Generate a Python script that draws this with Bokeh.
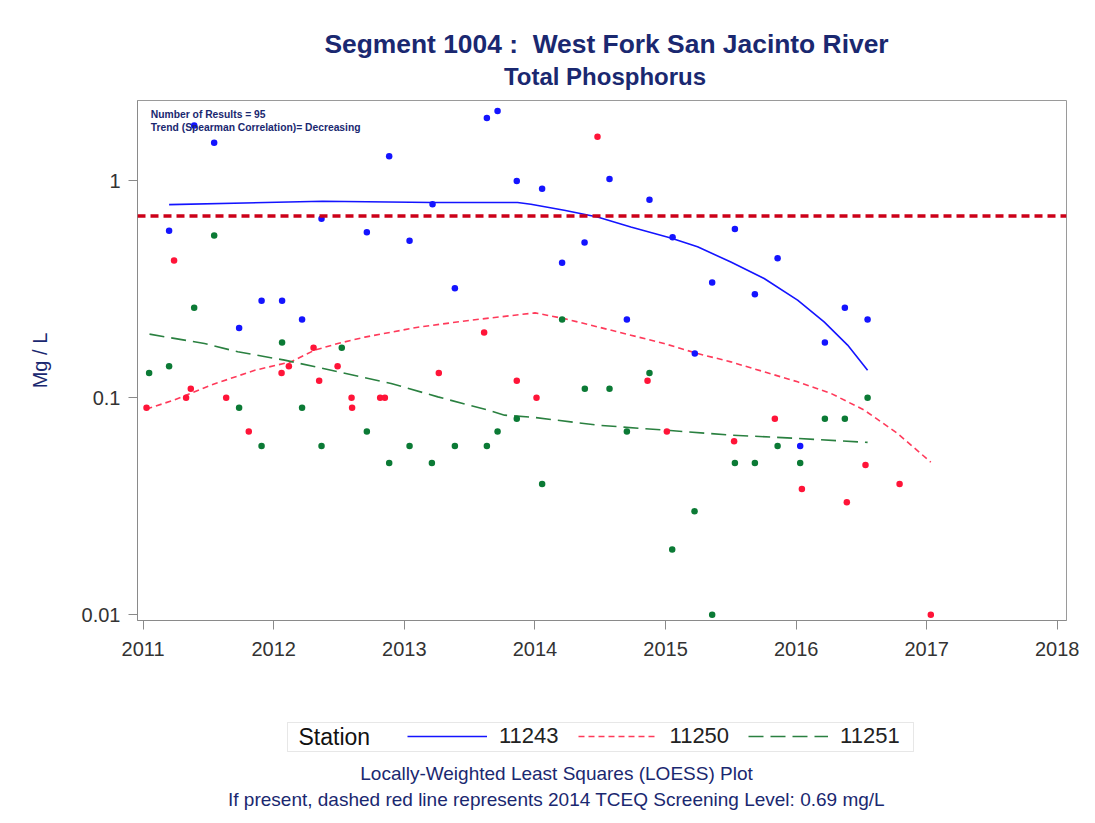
from bokeh.plotting import figure
from bokeh.layouts import column
from bokeh.models import (Range1d, FixedTicker, CustomJSTickFormatter, Span, Legend,
                          LegendItem, Label, BoxAnnotation)
from bokeh.embed import file_html
from bokeh.resources import INLINE

# ---- data (decimal year, mg/L) ----
s11243_x = [2011.199, 2011.391, 2011.544, 2011.735, 2011.907, 2012.064, 2012.217, 2012.366,
            2012.713, 2012.884, 2013.040, 2013.216, 2013.387, 2013.632, 2013.714, 2013.861,
            2014.055, 2014.208, 2014.380, 2014.571, 2014.704, 2014.877, 2015.054, 2015.224,
            2015.357, 2015.531, 2015.684, 2015.858, 2016.031, 2016.220, 2016.373, 2016.547]
s11243_y = [0.59, 1.8, 1.5, 0.21, 0.28, 0.28, 0.23, 0.67,
            0.58, 1.3, 0.53, 0.78, 0.32, 1.95, 2.1, 1.0,
            0.92, 0.42, 0.52, 1.02, 0.23, 0.82, 0.55, 0.16,
            0.34, 0.6, 0.3, 0.44, 0.06, 0.18, 0.26, 0.23]

s11250_x = [2011.026, 2011.237, 2011.329, 2011.365, 2011.636, 2011.809, 2012.060, 2012.116,
            2012.305, 2012.348, 2012.489, 2012.596, 2012.600, 2012.815, 2012.851, 2013.264,
            2013.611, 2013.861, 2014.012, 2014.479, 2014.862, 2015.010, 2015.525, 2015.837,
            2016.044, 2016.388, 2016.531, 2016.792, 2017.031]
s11250_y = [0.09, 0.43, 0.10, 0.11, 0.10, 0.07, 0.13, 0.14,
            0.17, 0.12, 0.14, 0.10, 0.09, 0.10, 0.10, 0.13,
            0.20, 0.12, 0.10, 1.6, 0.12, 0.07, 0.063, 0.08,
            0.038, 0.033, 0.049, 0.04, 0.01]

s11251_x = [2011.046, 2011.199, 2011.391, 2011.544, 2011.735, 2011.907, 2012.064, 2012.217,
            2012.366, 2012.521, 2012.713, 2012.884, 2013.040, 2013.211, 2013.387, 2013.632,
            2013.714, 2013.861, 2014.055, 2014.208, 2014.382, 2014.571, 2014.704, 2014.877,
            2015.051, 2015.222, 2015.357, 2015.531, 2015.684, 2015.858, 2016.031, 2016.220,
            2016.373, 2016.547]
s11251_y = [0.13, 0.14, 0.26, 0.56, 0.09, 0.06, 0.18, 0.09,
            0.06, 0.17, 0.07, 0.05, 0.06, 0.05, 0.06, 0.06,
            0.07, 0.08, 0.04, 0.23, 0.11, 0.11, 0.07, 0.13,
            0.02, 0.03, 0.01, 0.05, 0.05, 0.06, 0.05, 0.08,
            0.08, 0.10]

# LOESS fits
loess11243_x = [2011.199, 2012.374, 2013.216, 2013.867, 2013.969, 2014.224, 2014.479, 2014.734,
                2015.040, 2015.245, 2015.500, 2015.755, 2016.011, 2016.214, 2016.394, 2016.547]
loess11243_y = [0.778, 0.806, 0.795, 0.795, 0.781, 0.733, 0.682, 0.614,
                0.546, 0.497, 0.423, 0.355, 0.282, 0.224, 0.175, 0.134]

loess11250_x = [2011.025, 2011.235, 2011.518, 2011.855, 2012.131, 2012.315, 2012.491, 2012.698,
                2013.104, 2013.510, 2014.000, 2014.224, 2014.479, 2014.734, 2014.989, 2015.245,
                2015.500, 2015.755, 2016.011, 2016.266, 2016.521, 2016.776, 2017.031]
loess11250_y = [0.0887, 0.0976, 0.1144, 0.134, 0.1465, 0.166, 0.178, 0.1905,
                0.2117, 0.228, 0.2464, 0.232, 0.2125, 0.1945, 0.178, 0.160,
                0.1465, 0.1318, 0.1185, 0.1048, 0.0878, 0.0685, 0.0505]

loess11251_x = [2011.049, 2011.470, 2011.725, 2012.083, 2012.440, 2012.899, 2013.257, 2013.639,
                2013.767, 2013.997, 2014.479, 2014.989, 2015.500, 2016.011, 2016.547]
loess11251_y = [0.1966, 0.178, 0.163, 0.1492, 0.134, 0.1165, 0.101, 0.0878,
                0.0832, 0.0812, 0.0748, 0.071, 0.0673, 0.065, 0.0623]

stations = ["11243", "11250", "11251"]
screening_level = 0.69
x_ticks = [2011, 2012, 2013, 2014, 2015, 2016, 2017, 2018]
y_ticks = [0.01, 0.1, 1]

title_text = "Segment 1004 :\u00a0 West Fork San Jacinto River"
subtitle_text = "Total Phosphorus"
note_lines = ["Number of Results = 95", "Trend (Spearman Correlation)= Decreasing"]
footer_lines = ["Locally-Weighted Least Squares (LOESS) Plot",
                "If present, dashed red line represents 2014 TCEQ Screening Level: 0.69 mg/L"]

FONT = "Liberation Sans"
NAVY = "#1a2870"
BLUE = "#1414ff"
RED = "#ff1438"
GREEN = "#0b7a35"
RED_LINE = "#ff3a5a"
GREEN_LINE = "#2a8040"

W = 1079
FL, FR = 137, 1066   # frame left / right (page pixels); all strips share it


def strip(height):
    f = figure(width=W, height=height, x_range=Range1d(FL, FR), y_range=Range1d(height, 0),
               output_backend="svg", toolbar_location=None, min_border=0,
               min_border_left=FL, min_border_right=W - FR)
    f.axis.visible = False
    f.grid.visible = False
    f.outline_line_color = None
    f.background_fill_color = "white"
    f.border_fill_color = "white"
    return f


# ---------------- header strip ----------------
h = strip(90)
h.add_layout(Label(x=606, y=43, text=title_text, text_font=FONT, text_font_size="26.4px",
                   text_font_style="bold", text_color=NAVY, text_align="center",
                   text_baseline="middle"))
h.add_layout(Label(x=604.5, y=75.5, text=subtitle_text, text_font=FONT, text_font_size="24px",
                   text_font_style="bold", text_color=NAVY, text_align="center",
                   text_baseline="middle"))

# ---------------- main plot ----------------
p = figure(width=W, height=590,
           x_range=Range1d(2010.957, 2018.07), y_range=Range1d(0.0094, 2.35),
           y_axis_type="log", output_backend="svg", toolbar_location=None,
           min_border_left=FL, min_border_right=W - FR, min_border_top=10, min_border_bottom=60)
p.background_fill_color = "white"
p.border_fill_color = "white"
p.outline_line_color = "#9a9a9a"
p.xgrid.visible = False
p.ygrid.visible = False

for ax in (p.xaxis[0], p.yaxis[0]):
    ax.axis_line_color = "#8a8a8a"
    ax.major_tick_line_color = "#8a8a8a"
    ax.minor_tick_line_color = None
    ax.major_tick_in = 0
    ax.major_tick_out = 9
    ax.major_label_text_font = FONT
    ax.major_label_text_font_size = "20px"
    ax.major_label_text_color = "#333333"
p.xaxis.ticker = FixedTicker(ticks=x_ticks)
p.xaxis.major_label_standoff = 12
p.yaxis.ticker = FixedTicker(ticks=y_ticks)
p.yaxis.formatter = CustomJSTickFormatter(code="return String(tick);")
p.yaxis.major_label_standoff = 8
p.yaxis.axis_label = "Mg / L"
p.yaxis.axis_label_text_font = FONT
p.yaxis.axis_label_text_font_size = "20px"
p.yaxis.axis_label_text_font_style = "normal"
p.yaxis.axis_label_text_color = NAVY
p.yaxis.axis_label_standoff = 28

p.add_layout(Span(location=screening_level, dimension="width", line_color="#cc0018",
                  line_width=3.5, line_dash="8 5"))

p.line(loess11243_x, loess11243_y, line_color=BLUE, line_width=1.6)
p.line(loess11250_x, loess11250_y, line_color=RED_LINE, line_width=1.6, line_dash="6 4")
p.line(loess11251_x, loess11251_y, line_color=GREEN_LINE, line_width=1.6, line_dash="15 7")

p.scatter(s11243_x, s11243_y, size=6.5, fill_color=BLUE, line_color=None)
p.scatter(s11250_x, s11250_y, size=6.5, fill_color=RED, line_color=None)
p.scatter(s11251_x, s11251_y, size=6.5, fill_color=GREEN, line_color=None)

p.add_layout(Label(x=2011.059, y=2.018, text=note_lines[0], text_font=FONT,
                   text_font_size="10.3px", text_font_style="bold", text_color=NAVY,
                   text_baseline="middle", text_align="left"))
p.add_layout(Label(x=2011.059, y=1.759, text=note_lines[1],
                   text_font=FONT, text_font_size="10.3px", text_font_style="bold",
                   text_color=NAVY, text_baseline="middle", text_align="left"))

# ---------------- legend + footnotes strip ----------------
q = strip(135)
q.add_layout(BoxAnnotation(left=287, right=913, top=42, bottom=71, fill_color="white",
                           fill_alpha=1.0, line_color="#b0b0b0", line_width=1))

# hidden proxies of the three LOESS lines, only used for the legend swatches
g1 = q.line(loess11243_x, loess11243_y, line_color=BLUE, line_width=1.6, visible=False)
g2 = q.line(loess11250_x, loess11250_y, line_color=RED_LINE, line_width=1.6,
            line_dash="6 4", visible=False)
g3 = q.line(loess11251_x, loess11251_y, line_color=GREEN_LINE, line_width=1.6,
            line_dash="15 7", visible=False)
legend = Legend(items=[LegendItem(label=stations[0], renderers=[g1]),
                       LegendItem(label=stations[1], renderers=[g2]),
                       LegendItem(label=stations[2], renderers=[g3])],
                orientation="horizontal", location=(407 - FL, 66),
                glyph_width=80, glyph_height=20, label_standoff=12, spacing=19,
                padding=0, margin=0, border_line_color=None, background_fill_alpha=0,
                label_text_font=FONT, label_text_font_size="22px",
                label_text_color="#222222")
q.add_layout(legend)
q.add_layout(Label(x=298, y=56.5, text="Station", text_font=FONT, text_font_size="23px",
                   text_color="#111111", text_align="left", text_baseline="middle"))

q.add_layout(Label(x=556, y=93, text=footer_lines[0],
                   text_font=FONT, text_font_size="19px", text_color=NAVY,
                   text_align="center", text_baseline="middle"))
q.add_layout(Label(x=556, y=119, text=footer_lines[1],
                   text_font=FONT, text_font_size="19px", text_color=NAVY,
                   text_align="center", text_baseline="middle"))

layout = column(h, p, q, spacing=0)
open("out.html", "w").write(file_html(layout, INLINE))
